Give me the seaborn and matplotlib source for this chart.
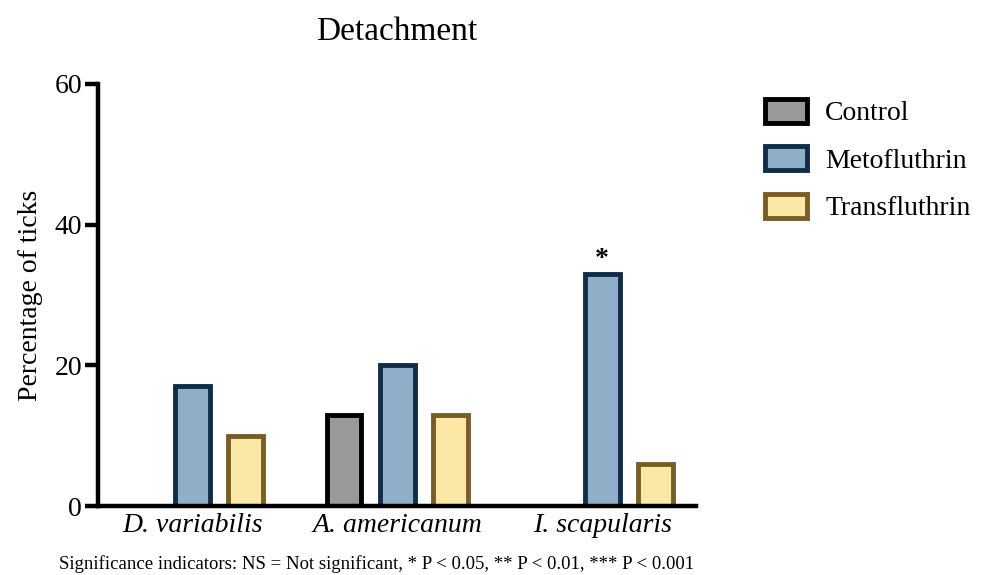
import pandas as pd
import seaborn as sns
import matplotlib.pyplot as plt

# Values
species = ['D. variabilis', 'A. americanum', 'I. scapularis']
treatments = ['Control', 'Metofluthrin', 'Transfluthrin']
control = [0, 13, 0]
metofluthrin = [17, 20, 33]
transfluthrin = [10, 13, 6]

fills = {'Control': '#999999', 'Metofluthrin': '#8fafc9', 'Transfluthrin': '#fbe8a6'}
edges = {'Control': '#000000', 'Metofluthrin': '#0f2d4a', 'Transfluthrin': '#7a5c25'}

df = pd.DataFrame({
    'Species': species * 3,
    'Treatment': [t for t in treatments for _ in species],
    'Percent': control + metofluthrin + transfluthrin,
})

sns.set_theme(style="ticks")
plt.rcParams['font.family'] = ['Liberation Serif', 'DejaVu Serif']
plt.rcParams['text.color'] = 'black'
plt.rcParams['axes.labelcolor'] = 'black'
plt.rcParams['xtick.color'] = 'black'
plt.rcParams['ytick.color'] = 'black'

fig = plt.figure(figsize=(9.86, 5.75), dpi=100)
ax = fig.add_axes([0.0994, 0.12, 0.606, 0.734])

sns.barplot(data=df, x='Species', y='Percent', hue='Treatment', order=species,
            hue_order=treatments, palette=fills, saturation=1, width=0.78, gap=0.35,
            linewidth=3.5, ax=ax)

# colour each bar's outline by treatment
for container, t in zip(ax.containers, treatments):
    for bar in container:
        bar.set_edgecolor(edges[t])
        if bar.get_height() == 0:
            bar.set_visible(False)

# significance marker
ax.text(2, metofluthrin[2] + 0.3, '*', ha='center', va='bottom', fontsize=20,
        fontweight='bold')

ax.set_ylim(0, 60)
ax.set_yticks([0, 20, 40, 60])
ax.set_xlim(-0.46, 2.455)
ax.set_xlabel('')
ax.set_ylabel('Percentage of ticks', fontsize=20, labelpad=8)
ax.set_title('Detachment', fontsize=24, pad=32)
ax.tick_params(axis='y', labelsize=20, width=3.2, length=9.5, pad=2)
ax.tick_params(axis='x', length=0, labelsize=20, pad=5)
for lab in ax.get_xticklabels():
    lab.set_style('italic')
sns.despine(ax=ax)
for side in ['left', 'bottom']:
    ax.spines[side].set_linewidth(3.2)
    ax.spines[side].set_color('black')

handles, labels = ax.get_legend_handles_labels()
for h, t in zip(handles, treatments):
    h.set_edgecolor(edges[t])
    h.set_linewidth(3.5)
ax.legend(handles, labels, loc='upper left', bbox_to_anchor=(0.751, 0.872),
          bbox_transform=fig.transFigure, frameon=False, fontsize=20,
          handlelength=1.5, handleheight=0.95, labelspacing=0.72, handletextpad=0.65)

fig.text(0.06, 0.003, 'Significance indicators: NS = Not significant, * P < 0.05, ** P < 0.01, *** P < 0.001',
         fontsize=13.5, ha='left', va='bottom')

plt.savefig('out.png', dpi=100)
